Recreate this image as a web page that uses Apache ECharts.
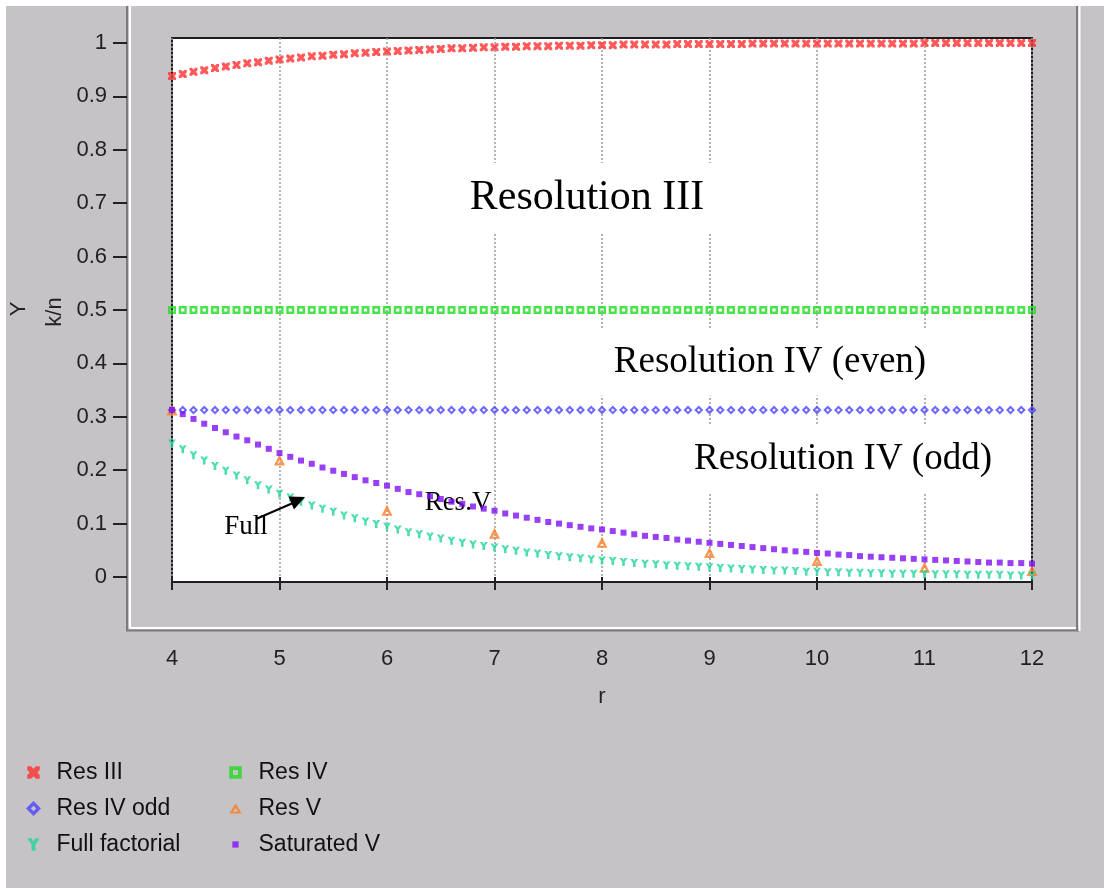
<!DOCTYPE html>
<html>
<head>
<meta charset="utf-8">
<script src="https://cdn.jsdelivr.net/npm/echarts@6/dist/echarts.min.js"></script>
<style>
html,body{margin:0;padding:0;background:#c6c3c6;}
#chart{width:1104px;height:888px;}
</style>
</head>
<body>
<div id="chart"></div>
<script>
// ---- data ----
const rValues = [4.0,4.1,4.2,4.3,4.4,4.5,4.6,4.7,4.8,4.9,
  5.0,5.1,5.2,5.3,5.4,5.5,5.6,5.7,5.8,5.9,
  6.0,6.1,6.2,6.3,6.4,6.5,6.6,6.7,6.8,6.9,
  7.0,7.1,7.2,7.3,7.4,7.5,7.6,7.7,7.8,7.9,
  8.0,8.1,8.2,8.3,8.4,8.5,8.6,8.7,8.8,8.9,
  9.0,9.1,9.2,9.3,9.4,9.5,9.6,9.7,9.8,9.9,
  10.0,10.1,10.2,10.3,10.4,10.5,10.6,10.7,10.8,10.9,
  11.0,11.1,11.2,11.3,11.4,11.5,11.6,11.7,11.8,11.9,12.0];

const resIII = [0.938,0.942,0.946,0.949,0.953,0.956,0.959,0.962,0.964,0.967,
  0.969,0.971,0.973,0.975,0.976,0.978,0.979,0.981,0.982,0.983,
  0.984,0.985,0.986,0.987,0.988,0.989,0.990,0.990,0.991,0.992,
  0.992,0.993,0.993,0.994,0.994,0.994,0.995,0.995,0.995,0.996,
  0.996,0.996,0.997,0.997,0.997,0.997,0.997,0.998,0.998,0.998,
  0.998,0.998,0.998,0.998,0.999,0.999,0.999,0.999,0.999,0.999,
  0.999,0.999,0.999,0.999,0.999,0.999,0.999,0.999,0.999,0.999,
  1.0,1.0,1.0,1.0,1.0,1.0,1.0,1.0,1.0,1.0,1.0];

const resIV = [0.5,0.5,0.5,0.5,0.5,0.5,0.5,0.5,0.5,0.5,
  0.5,0.5,0.5,0.5,0.5,0.5,0.5,0.5,0.5,0.5,
  0.5,0.5,0.5,0.5,0.5,0.5,0.5,0.5,0.5,0.5,
  0.5,0.5,0.5,0.5,0.5,0.5,0.5,0.5,0.5,0.5,
  0.5,0.5,0.5,0.5,0.5,0.5,0.5,0.5,0.5,0.5,
  0.5,0.5,0.5,0.5,0.5,0.5,0.5,0.5,0.5,0.5,
  0.5,0.5,0.5,0.5,0.5,0.5,0.5,0.5,0.5,0.5,
  0.5,0.5,0.5,0.5,0.5,0.5,0.5,0.5,0.5,0.5,0.5];

const resIVodd = [0.3125,0.3125,0.3125,0.3125,0.3125,0.3125,0.3125,0.3125,0.3125,0.3125,
  0.3125,0.3125,0.3125,0.3125,0.3125,0.3125,0.3125,0.3125,0.3125,0.3125,
  0.3125,0.3125,0.3125,0.3125,0.3125,0.3125,0.3125,0.3125,0.3125,0.3125,
  0.3125,0.3125,0.3125,0.3125,0.3125,0.3125,0.3125,0.3125,0.3125,0.3125,
  0.3125,0.3125,0.3125,0.3125,0.3125,0.3125,0.3125,0.3125,0.3125,0.3125,
  0.3125,0.3125,0.3125,0.3125,0.3125,0.3125,0.3125,0.3125,0.3125,0.3125,
  0.3125,0.3125,0.3125,0.3125,0.3125,0.3125,0.3125,0.3125,0.3125,0.3125,
  0.3125,0.3125,0.3125,0.3125,0.3125,0.3125,0.3125,0.3125,0.3125,0.3125,0.3125];

const fullFactorial = [0.250,0.239,0.228,0.218,0.208,0.199,0.190,0.181,0.172,0.164,
  0.156,0.149,0.141,0.134,0.128,0.122,0.115,0.110,0.104,0.099,
  0.094,0.089,0.084,0.080,0.076,0.072,0.068,0.064,0.061,0.058,
  0.055,0.052,0.049,0.046,0.044,0.041,0.039,0.037,0.035,0.033,
  0.031,0.030,0.028,0.026,0.025,0.024,0.022,0.021,0.020,0.019,
  0.018,0.017,0.016,0.015,0.014,0.013,0.012,0.012,0.011,0.010,
  0.010,0.009,0.009,0.008,0.008,0.007,0.007,0.006,0.006,0.006,
  0.005,0.005,0.005,0.005,0.004,0.004,0.004,0.004,0.003,0.003,0.003];

const saturatedV = [0.313,0.305,0.296,0.287,0.279,0.271,0.263,0.256,0.248,0.240,
  0.232,0.225,0.218,0.212,0.205,0.199,0.193,0.187,0.181,0.176,
  0.171,0.165,0.159,0.155,0.151,0.146,0.141,0.137,0.132,0.128,
  0.124,0.119,0.115,0.111,0.107,0.103,0.100,0.097,0.094,0.091,
  0.089,0.086,0.083,0.080,0.077,0.075,0.073,0.070,0.068,0.066,
  0.064,0.062,0.060,0.058,0.056,0.054,0.052,0.050,0.048,0.047,
  0.045,0.044,0.042,0.041,0.039,0.038,0.037,0.036,0.035,0.034,
  0.033,0.032,0.031,0.030,0.029,0.028,0.027,0.027,0.026,0.026,0.025];

const resVr = [4,5,6,7,8,9,10,11,12];
const resV = [0.3125,0.219,0.125,0.082,0.065,0.046,0.031,0.018,0.012];

const yTicks = [0,0.1,0.2,0.3,0.4,0.5,0.6,0.7,0.8,0.9,1];

// ---- chart ----
const SANS = '"Liberation Sans", Arial, sans-serif';
const SERIF = '"Liberation Serif", "Times New Roman", serif';
const pairs = (xs, ys) => xs.map((x, i) => [x, ys[i]]);

const xMark = 'path://M0,0 L3,0 L5,2 L7,0 L10,0 L10,3 L8,5 L10,7 L10,10 L7,10 L5,8 L3,10 L0,10 L0,7 L2,5 L0,3 Z';
const yMark = 'path://M0,0 L3.5,0 L5,2.5 L6.5,0 L10,0 L6.6,5 L6.6,10 L3.4,10 L3.4,5 Z';
const sqRing = 'path://M0,0 L10,0 L10,10 L0,10 Z M3,3 L3,7 L7,7 L7,3 Z';
const diaRing = 'path://M5,0 L10,5 L5,10 L0,5 Z M5,3.2 L3.2,5 L5,6.8 L6.8,5 Z';
const triRing = 'path://M5,0 L10,8 L0,8 Z M5,4 L3.3,6.5 L6.7,6.5 Z';
const sqFill = 'path://M0,0 L10,0 L10,10 L0,10 Z';
// legend icons (invisible move-to points set the icon box so sizes match the reference)
const xMarkLegend = 'path://M-1,-1 M11,11 M0,0 L3,0 L5,2 L7,0 L10,0 L10,3 L8,5 L10,7 L10,10 L7,10 L5,8 L3,10 L0,10 L0,7 L2,5 L0,3 Z';
const yMarkLegend = 'path://M-1,-1 M11,11 M0,0 L3.5,0 L5,2.5 L6.5,0 L10,0 L6.6,5 L6.6,10 L3.4,10 L3.4,5 Z';
const sqRingLegend = 'path://M-1,-1 M11,11 M0,0 L10,0 L10,10 L0,10 Z M3,3 L3,7 L7,7 L7,3 Z';
const triRingLegend = 'path://M-0.5,-2 M10.5,10 M5,0 L10,8 L0,8 Z M5,3.6 L3,6.6 L7,6.6 Z';
const sqFillSmall = 'path://M0,0 M12,12 M3.5,3.5 L8.5,3.5 L8.5,8.5 L3.5,8.5 Z';

const chart = echarts.init(document.getElementById('chart'), null, {renderer: 'canvas'});

const legendText = {fontSize: 23, color: '#111', fontFamily: SANS};

chart.setOption({
  backgroundColor: '#c6c3c6',
  animation: false,
  grid: {
    left: 172, right: 72, top: 38, bottom: 306,
    show: true, backgroundColor: '#ffffff', borderColor: '#1e1e1e', borderWidth: 2,
    containLabel: false
  },
  xAxis: {
    type: 'value', min: 4, max: 12, interval: 1,
    offset: 48,
    axisLine: {show: false},
    axisTick: {show: true, length: 13, lineStyle: {color: '#222', width: 2}},
    axisLabel: {margin: 18, fontSize: 22, color: '#222', fontFamily: SANS},
    splitLine: {show: true, lineStyle: {color: '#9c9c9c', width: 1.5, type: [2, 2]}},
    name: 'r', nameLocation: 'middle', nameGap: 56,
    nameTextStyle: {fontSize: 22, color: '#222', fontFamily: SANS}
  },
  yAxis: {
    type: 'value', min: -0.0094, max: 1.0094,
    offset: 45,
    axisLine: {show: false},
    axisTick: {show: true, length: 14, lineStyle: {color: '#222', width: 2}, customValues: yTicks},
    axisLabel: {margin: 20, fontSize: 22, color: '#222', fontFamily: SANS, customValues: yTicks,
      formatter: v => String(Math.round(v * 10) / 10)},
    splitLine: {show: false}
  },
  legend: [
    {data: [{name: 'Res III', icon: xMarkLegend}, {name: 'Res IV odd', icon: diaRing}, {name: 'Full factorial', icon: yMarkLegend}],
      orient: 'vertical', left: 26, top: 761, symbolKeepAspect: true,
      itemWidth: 36, itemHeight: 15, itemGap: 13, textStyle: legendText, padding: 0},
    {data: [{name: 'Res IV', icon: sqRingLegend}, {name: 'Res V', icon: triRingLegend}, {name: 'Saturated V', icon: sqFillSmall}],
      orient: 'vertical', left: 228, top: 761, symbolKeepAspect: true,
      itemWidth: 36, itemHeight: 15, itemGap: 13, textStyle: legendText, padding: 0}
  ],
  series: [
    {name: 'Res III', type: 'scatter', symbol: xMark, symbolSize: 8,
      itemStyle: {color: '#ff3030'}, data: pairs(rValues, resIII)},
    {name: 'Res IV', type: 'scatter', symbol: sqRing, symbolSize: 8,
      itemStyle: {color: '#1edc1e'}, data: pairs(rValues, resIV)},
    {name: 'Res IV odd', type: 'scatter', symbol: diaRing, symbolSize: 9,
      itemStyle: {color: '#4a44ff'}, data: pairs(rValues, resIVodd)},
    {name: 'Res V', type: 'scatter', symbol: triRing, symbolSize: 11,
      itemStyle: {color: '#ff7a22'}, data: pairs(resVr, resV)},
    {name: 'Full factorial', type: 'scatter', symbol: yMark, symbolSize: 8,
      itemStyle: {color: '#20d49e'}, data: pairs(rValues, fullFactorial)},
    {name: 'Saturated V', type: 'scatter', symbol: sqFill, symbolSize: 6,
      itemStyle: {color: '#7f10f5'}, data: pairs(rValues, saturatedV)}
  ],
  graphic: [
    // outer white edges
    {type: 'rect', shape: {x: 0, y: 0, width: 1104, height: 6}, style: {fill: '#ffffff'}, silent: true},
    {type: 'rect', shape: {x: 0, y: 0, width: 6, height: 888}, style: {fill: '#ffffff'}, silent: true},
    // axis panel frame lines
    {type: 'line', shape: {x1: 127, y1: 6, x2: 127, y2: 631}, style: {stroke: '#7a7a7a', lineWidth: 2}, silent: true},
    {type: 'line', shape: {x1: 130, y1: 6, x2: 130, y2: 628}, style: {stroke: '#ffffff', lineWidth: 2}, silent: true},
    {type: 'line', shape: {x1: 130, y1: 628, x2: 1078, y2: 628}, style: {stroke: '#ffffff', lineWidth: 2}, silent: true},
    {type: 'line', shape: {x1: 126, y1: 630.5, x2: 1079, y2: 630.5}, style: {stroke: '#7a7a7a', lineWidth: 2}, silent: true},
    {type: 'line', shape: {x1: 1077, y1: 6, x2: 1077, y2: 631}, style: {stroke: '#7a7a7a', lineWidth: 2}, silent: true},
    {type: 'line', shape: {x1: 1079.5, y1: 6, x2: 1079.5, y2: 631}, style: {stroke: '#ffffff', lineWidth: 2}, silent: true},
    // y axis title
    {type: 'text', x: 19, y: 309, rotation: Math.PI / 2, silent: true,
      style: {text: 'Y', font: '22px ' + SANS, fill: '#222', align: 'center', verticalAlign: 'middle'}},
    {type: 'text', x: 55, y: 312, rotation: Math.PI / 2, silent: true,
      style: {text: 'k/n', font: '22px ' + SANS, fill: '#222', align: 'center', verticalAlign: 'middle'}},
    // annotations
    {type: 'text', x: 587, y: 198, z: 1, silent: true,
      style: {text: 'Resolution III', font: '42px ' + SERIF, fill: '#000', align: 'center', verticalAlign: 'middle',
        backgroundColor: '#ffffff', padding: [14, 26]}},
    {type: 'text', x: 770, y: 362, z: 1, silent: true,
      style: {text: 'Resolution IV (even)', font: '37px ' + SERIF, fill: '#000', align: 'center', verticalAlign: 'middle',
        backgroundColor: '#ffffff', padding: [15, 22]}},
    {type: 'text', x: 843, y: 459, z: 1, silent: true,
      style: {text: 'Resolution IV (odd)', font: '37px ' + SERIF, fill: '#000', align: 'center', verticalAlign: 'middle',
        backgroundColor: '#ffffff', padding: [15, 22]}},
    {type: 'text', x: 246, y: 527, z: 1, silent: true,
      style: {text: 'Full', font: '27px ' + SERIF, fill: '#000', align: 'center', verticalAlign: 'middle',
        backgroundColor: '#ffffff', padding: [1, 2]}},
    {type: 'text', x: 458, y: 503, z: 1, silent: true,
      style: {text: 'Res.V', font: '27px ' + SERIF, fill: '#000', align: 'center', verticalAlign: 'middle',
        backgroundColor: '#ffffff', padding: [1, 2]}},
    // arrow Full -> curve
    {type: 'line', z: 3, silent: true, shape: {x1: 256, y1: 519, x2: 293, y2: 503},
      style: {stroke: '#000', lineWidth: 2}},
    {type: 'polygon', z: 3, silent: true, shape: {points: [[305, 497], [294, 509.5], [288.5, 496.6]]},
      style: {fill: '#000'}}
  ]
});
</script>
</body>
</html>
